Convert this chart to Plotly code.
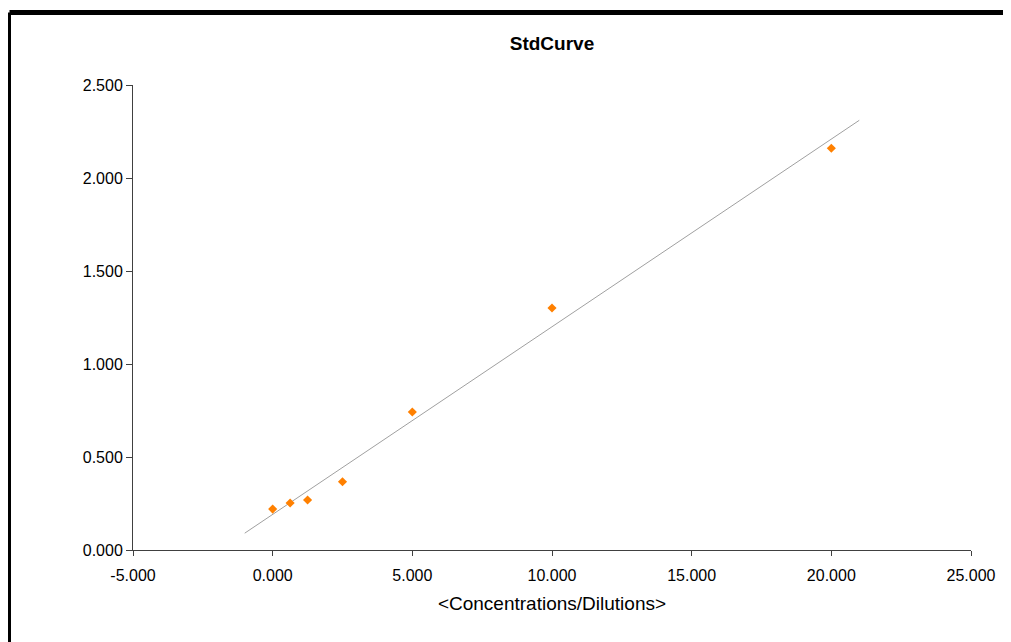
import numpy as np
import plotly.graph_objects as go

# Data
conc = [0.0, 0.625, 1.25, 2.5, 5.0, 10.0, 20.0]
absorb = [0.220, 0.253, 0.269, 0.367, 0.742, 1.301, 2.160]
x_ticks = [-5, 0, 5, 10, 15, 20, 25]
y_ticks = [0.0, 0.5, 1.0, 1.5, 2.0, 2.5]
trend_range = [-1.0, 21.0]  # trendline forecast backward/forward by 1

slope, intercept = np.polyfit(conc, absorb, 1)
tx = np.array(trend_range)
ty = slope * tx + intercept

# page has an 8px body margin; compensate so the plot lands where the reference has it
OFF = 8
W, H = 1011, 642 - OFF
L, R, T, B = 133 - OFF, 40 + OFF, 85 - OFF, 92
pw, ph = W - L - R, H - T - B

def px2paper_x(p):  # p: figure pixel
    return (p - L) / pw

def px2paper_y(p):
    return (H - B - p) / ph

fig = go.Figure()
fig.add_trace(go.Scatter(x=tx, y=ty, mode="lines",
                         line=dict(color="#a0a0a0", width=1),
                         hoverinfo="skip", showlegend=False))
fig.add_trace(go.Scatter(x=conc, y=absorb, mode="markers",
                         marker=dict(symbol="diamond", size=7, color="#FF8000",
                                     line=dict(width=0)),
                         showlegend=False))

font_family = "Liberation Sans, Arial, sans-serif"
fig.update_layout(
    width=W, height=H,
    margin=dict(l=L, r=R, t=T, b=B, autoexpand=False),
    paper_bgcolor="white", plot_bgcolor="white",
    font=dict(family=font_family, color="black", size=16),
    title=dict(text="<b>StdCurve</b>", x=(L + pw / 2) / W, xanchor="center",
               y=1 - (43 - OFF) / H, yanchor="middle",
               font=dict(size=19, family=font_family, color="black")),
    xaxis=dict(range=[-5, 25], tickvals=x_ticks, ticktext=[f"{v:.3f}" for v in x_ticks],
               showgrid=False, zeroline=False, showline=True, linecolor="#404040",
               linewidth=1, ticks="outside", ticklen=5, tickcolor="#404040",
               tickfont=dict(size=16), ticklabelstandoff=6,
               title=dict(text="&lt;Concentrations/Dilutions&gt;", font=dict(size=19),
                          standoff=13)),
    yaxis=dict(range=[0, 2.5], tickvals=y_ticks, ticktext=[f"{v:.3f}" for v in y_ticks],
               showgrid=False, zeroline=False, showline=True, linecolor="#404040",
               linewidth=1, ticks="outside", ticklen=6, tickcolor="#404040",
               tickfont=dict(size=16)),
)

# Outer chart border (top and left edges visible)
bx = px2paper_x(1.5)
by = px2paper_y(12.5 - OFF)
fig.add_shape(type="line", xref="paper", yref="paper",
              x0=bx, y0=by, x1=px2paper_x(W + 10), y1=by,
              line=dict(color="black", width=5))
fig.add_shape(type="line", xref="paper", yref="paper",
              x0=bx, y0=by, x1=bx, y1=px2paper_y(H + 10),
              line=dict(color="black", width=3))

fig.write_html("out.html")
